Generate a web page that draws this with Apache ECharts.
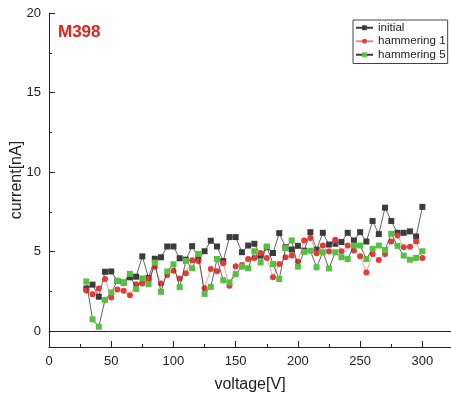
<!DOCTYPE html>
<html><head><meta charset="utf-8">
<script src="https://cdn.jsdelivr.net/npm/echarts@6/dist/echarts.min.js"></script>
<style>html,body{margin:0;padding:0;background:#fff}#c{width:451px;height:399px}</style>
</head><body><div id="c"></div>
<script>
const voltage = [30,35,40,45,50,55,60,65,70,75,80,85,90,95,100,105,110,115,120,125,130,135,140,145,150,155,160,165,170,175,180,185,190,195,200,205,210,215,220,225,230,235,240,245,250,255,260,265,270,275,280,285,290,295,300];
const initial = [2.68,2.92,2.16,3.73,3.75,3.16,3.05,3.38,3.42,4.70,3.35,4.55,4.64,5.32,5.32,4.58,4.49,5.34,4.60,5.02,5.68,5.32,4.40,5.91,5.91,4.96,5.38,5.49,4.75,5.27,4.91,6.16,5.27,5.13,5.36,5.06,6.22,5.12,6.18,5.44,5.49,5.60,6.18,5.70,6.22,5.63,6.92,6.10,7.76,6.92,6.18,6.18,6.27,5.95,7.81];
const hammering1 = [2.55,2.32,2.68,3.27,2.11,2.61,2.53,2.26,2.95,3.00,3.27,4.05,3.00,3.52,3.80,3.31,3.64,4.45,4.40,2.69,3.90,3.76,4.26,2.85,4.07,4.16,4.53,4.60,4.91,4.60,3.38,4.22,4.64,4.75,4.37,5.70,5.85,4.90,5.38,5.00,5.74,5.02,5.38,5.06,4.70,3.69,4.85,4.47,4.85,5.63,6.01,5.27,5.30,5.63,4.60];
const hammering5 = [3.12,0.74,0.27,1.96,2.43,3.16,3.06,3.60,2.64,3.31,2.95,4.30,2.47,3.75,4.20,2.76,4.41,3.95,4.85,2.34,2.78,4.53,3.20,3.06,3.58,4.05,3.95,5.02,4.32,5.32,4.22,3.27,5.22,5.70,4.05,4.98,5.05,4.01,4.96,3.94,4.96,4.64,4.53,5.38,5.38,4.53,5.17,5.38,5.10,6.12,5.36,4.75,4.49,4.60,5.02];
const yMajor = [0,5,10,15,20];
const yMinor = [2.5,7.5,12.5,17.5];

const chart = echarts.init(document.getElementById('c'));
const font = 'Liberation Sans, Arial, sans-serif';
const axisColor = '#222';
function pairs(arr){ return voltage.map((v,i)=>[v,arr[i]]); }
chart.setOption({
  animation:false,
  title:{text:'M398', left:53, top:19, textStyle:{color:'#e3221c', fontSize:17, fontWeight:'bold', fontFamily:font}},
  legend:{
    orient:'vertical', left:353, top:20,
    padding:[1,2,2,2], itemGap:0, itemWidth:17, itemHeight:6,
    borderColor:'#444', borderWidth:1, backgroundColor:'#fff',
    textStyle:{fontSize:11.6, lineHeight:13.5, color:'#222', fontFamily:font},
    data:['initial','hammering 1','hammering 5']
  },
  grid:{left:49, right:0, top:13, bottom:52, containLabel:false, outerBoundsMode:'none'},
  xAxis:[{
    type:'value', min:0, max:323, interval:50,
    name:'voltage[V]', nameLocation:'middle', nameGap:30, nameMoveOverlap:false,
    nameTextStyle:{fontSize:16, color:'#222', fontFamily:font},
    axisLine:{show:true, onZero:false, lineStyle:{color:axisColor, width:1}},
    axisTick:{show:true, inside:true, length:6, lineStyle:{color:axisColor}},
    minorTick:{show:true, splitNumber:2, length:3, lineStyle:{color:axisColor}},
    axisLabel:{fontSize:13, color:'#222', fontFamily:font, margin:8, showMaxLabel:false},
    splitLine:{show:false}
  },{
    type:'value', position:'top', min:0, max:323,
    axisLine:{show:true, lineStyle:{color:axisColor, width:1}},
    axisTick:{show:false}, axisLabel:{show:false}, splitLine:{show:false}
  }],
  yAxis:[{
    type:'value', min:-1, max:20,
    name:'current[nA]', nameLocation:'middle', nameGap:24, nameMoveOverlap:false,
    nameTextStyle:{fontSize:16, color:'#222', fontFamily:font},
    axisLine:{show:true, onZero:false, lineStyle:{color:axisColor, width:1}},
    axisTick:{show:true, inside:true, length:6, customValues:yMajor, lineStyle:{color:axisColor}},
    axisLabel:{fontSize:13, color:'#222', fontFamily:font, margin:8, customValues:yMajor},
    splitLine:{show:false}
  },{
    type:'value', min:-1, max:20, position:'left', offset:0,
    axisLine:{show:false},
    axisTick:{show:true, inside:true, length:3, customValues:yMinor, lineStyle:{color:axisColor}},
    axisLabel:{show:false}, splitLine:{show:false}
  }],
  series:[
    {name:'initial', type:'line', data:pairs(initial), symbol:'rect', symbolSize:6,
     itemStyle:{color:'#3c3c3c'}, lineStyle:{color:'#3c3c3c', width:0.8}, z:3},
    {name:'hammering 1', type:'line', data:pairs(hammering1), symbol:'circle', symbolSize:6,
     itemStyle:{color:'#e53a36'}, lineStyle:{color:'#ef8a88', width:0.8}, z:4},
    {name:'hammering 5', type:'line', data:pairs(hammering5), symbol:'rect', symbolSize:6,
     itemStyle:{color:'#55c143'}, lineStyle:{color:'#3a3a3a', width:0.8}, z:5}
  ]
});
</script></body></html>
